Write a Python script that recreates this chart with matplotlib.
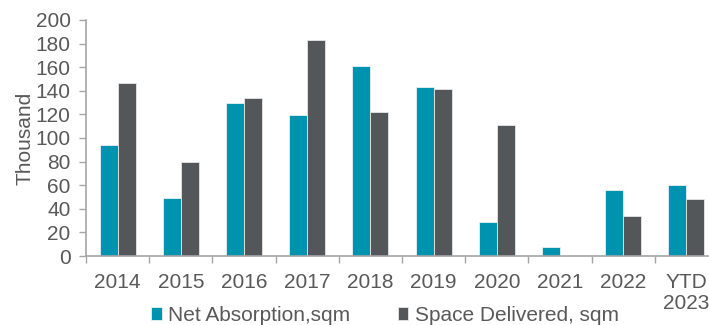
import numpy as np
import matplotlib.pyplot as plt
from matplotlib.ticker import FixedLocator

plt.rcParams['font.family'] = ['Liberation Sans', 'DejaVu Sans']

# data (thousand sqm)
years = ["2014", "2015", "2016", "2017", "2018", "2019", "2020", "2021", "2022", "YTD\n2023"]
net_absorption = [94, 49.5, 130, 119.5, 161, 143.5, 28.5, 7.6, 56.2, 60.2]
space_delivered = [146.6, 80, 134, 182.8, 121.8, 141.5, 111, 0, 33.6, 48]

teal = "#0093B0"
dark = "#54575A"
grey_txt = "#595959"
axis_col = "#A6A6A6"
fs = 15

fig = plt.figure(figsize=(7.09, 3.25), dpi=100)
ax = fig.add_axes([0.1213, 0.2123, 0.8914, 0.7262])

x = np.arange(len(years))
w = 0.286
ax.bar(x - w / 2, net_absorption, w, color=teal, edgecolor="#E8F2F5", linewidth=0.6,
       label="Net Absorption,sqm")
ax.bar(x + w / 2, space_delivered, w, color=dark, edgecolor="#E6E6E6", linewidth=0.6,
       label="Space Delivered, sqm")

ax.set_xlim(-0.5, len(years) - 0.5)
ax.set_ylim(0, 200)
ax.set_yticks(np.arange(0, 201, 20))

ax.set_xticks(x)
ax.set_xticklabels(years, linespacing=1.15)
ax.xaxis.set_minor_locator(FixedLocator(np.arange(-0.5, len(years), 1)))
ax.tick_params(axis="x", which="major", length=0, pad=12, labelsize=fs, labelcolor=grey_txt)
ax.tick_params(axis="x", which="minor", length=5, width=1, color=axis_col)
ax.tick_params(axis="y", length=5, width=1, color=axis_col, labelsize=fs,
               labelcolor=grey_txt, pad=6)

for s in ["top", "right"]:
    ax.spines[s].set_visible(False)
for s in ["left", "bottom"]:
    ax.spines[s].set_color(axis_col)
    ax.spines[s].set_linewidth(1.2)

ax.set_ylabel("Thousand", fontsize=fs, color=grey_txt, labelpad=1)

leg = fig.legend(loc="center", bbox_to_anchor=(0.543, 0.03), ncol=2, frameon=False,
                 fontsize=fs, handlelength=0.5, handleheight=0.55, handletextpad=0.3,
                 columnspacing=2.3)
for t in leg.get_texts():
    t.set_color(grey_txt)

fig.savefig("out.png", dpi=100)
